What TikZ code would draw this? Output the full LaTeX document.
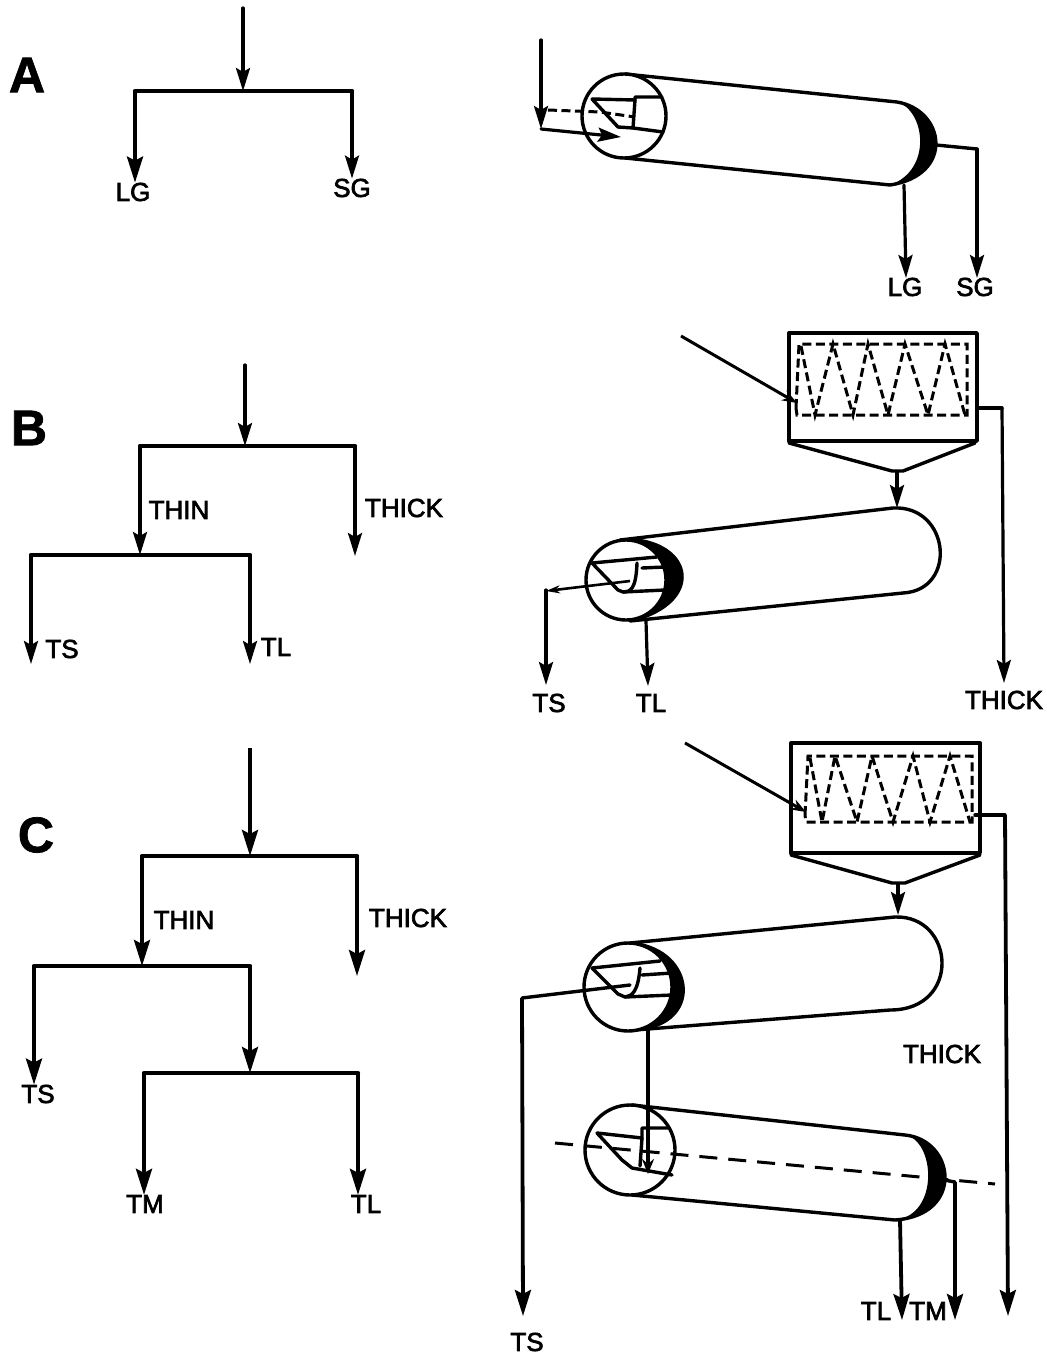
\documentclass[tikz,border=0pt]{standalone}
\usepackage{fontspec}
\setmainfont{Liberation Sans}
\newfontfamily\tagfont[FakeBold=2.6]{Liberation Sans}
\newfontfamily\panelfont[FakeBold=1.5]{Liberation Sans Bold}
\usetikzlibrary{arrows.meta}
\tikzset{
  flow/.style={line width=3.8pt, -{Stealth[length=26pt, width=16pt, inset=4pt]}},
  bar/.style={line width=4.2pt, line cap=round},
  thinflow/.style={line width=3.2pt, line cap=round, -{Stealth[length=23pt, width=14pt, inset=4pt]}},
  wall/.style={line width=3.4pt, line join=round, line cap=round},
  coil/.style={line width=3pt, dash pattern=on 9pt off 4.5pt},
  axisline/.style={line width=3pt, dash pattern=on 18pt off 11pt},
  tag/.style={inner sep=0pt, font=\fontsize{26}{28}\tagfont},
  panel/.style={inner sep=0pt, font=\fontsize{50}{52}\panelfont}
}
\begin{document}
\begin{tikzpicture}[x=1pt, y=-1pt]
  \useasboundingbox (0, 0) rectangle (1046, 1356);

  % panel letters
  \node[panel] (panela) at (27, 75) {A};
  \node[panel] (panelb) at (29, 428) {B};
  \node[panel] (panelc) at (36, 835) {C};

  % scheme A
  \coordinate (ain) at (243, 8);
  \coordinate (aj) at (243, 91);
  \coordinate (al) at (135, 91);
  \coordinate (ar) at (352, 91);
  \node[tag] (alg) at (133, 192) {LG};
  \node[tag] (asg) at (352, 188) {SG};
  \draw[thinflow] (ain) -- (aj);
  \draw[bar] (al) -- (ar);
  \draw[flow] (al) -- (alg.north -| al);
  \draw[thinflow] (ar) -- (asg.north);

  % scheme B
  \coordinate (bin) at (245, 365);
  \coordinate (bj) at (245, 446);
  \coordinate (bl) at (140, 446);
  \coordinate (br) at (355, 446);
  \coordinate (bthick) at (355, 556);
  \coordinate (bs) at (140, 555);
  \coordinate (bsl) at (31, 555);
  \coordinate (bsr) at (250, 555);
  \coordinate (btse) at (31, 664);
  \coordinate (btle) at (250, 664);
  \node[tag] (bthin) at (179, 510) {THIN};
  \node[tag] (bthicklabel) at (404, 508) {THICK};
  \node[tag] (bts) at (62, 649) {TS};
  \node[tag] (btl) at (276, 647) {TL};
  \draw[thinflow] (bin) -- (bj);
  \draw[bar] (bl) -- (br);
  \draw[thinflow] (bl) -- (bs);
  \draw[thinflow] (br) -- (bthick);
  \draw[bar] (bsl) -- (bsr);
  \draw[thinflow] (bsl) -- (btse);
  \draw[thinflow] (bsr) -- (btle);

  % scheme C
  \coordinate (cin) at (250, 748);
  \coordinate (cj) at (250, 856);
  \coordinate (cl) at (142, 856);
  \coordinate (cr) at (357, 856);
  \coordinate (cthick) at (357, 976);
  \coordinate (cs) at (142, 966);
  \coordinate (csl) at (34, 966);
  \coordinate (csr) at (250, 966);
  \coordinate (cm) at (250, 1073);
  \coordinate (cml) at (144, 1073);
  \coordinate (cmr) at (358, 1073);
  \node[tag] (cthin) at (184, 920) {THIN};
  \node[tag] (cthicklabel) at (408, 918) {THICK};
  \node[tag] (cts) at (38, 1094) {TS};
  \node[tag] (ctm) at (145, 1204) {TM};
  \node[tag] (ctl) at (366, 1204) {TL};
  \draw[flow] (cin) -- (cj);
  \draw[bar] (cl) -- (cr);
  \draw[flow] (cl) -- (cs);
  \draw[flow] (cr) -- (cthick);
  \draw[bar] (csl) -- (csr);
  \draw[flow] (csl) -- (cts.north -| csl);
  \draw[flow] (csr) -- (cm);
  \draw[bar] (cml) -- (cmr);
  \draw[flow] (cml) -- (ctm.north -| cml);
  \draw[flow] (cmr) -- (ctl.north -| cmr);

  % centrifuge A
  \draw[wall] (625, 74) -- (897, 102)
    .. controls (945, 110) and (955, 175) .. (890, 185) -- (625, 158);
  \fill (897, 102) .. controls (945, 110) and (955, 175) .. (890, 185)
    .. controls (933, 170) and (925, 110) .. cycle;
  \draw[wall, fill=white] (624, 116) circle[radius=42];
  \draw[wall] (592, 99) -- (635, 100) -- (635, 97) -- (662, 97);
  \draw[wall] (592, 99) -- (618, 127) -- (633, 128) -- (663, 132);
  \draw[wall] (635, 100) -- (633, 128);
  \coordinate (aind) at (541, 40);
  \coordinate (aturn) at (541, 129);
  \coordinate (aout) at (621, 137);
  \draw[thinflow] (aind) -- (aturn);
  \draw[thinflow] (aturn) -- (aout);
  \draw[coil] (548, 110) -- (600, 112) -- (635, 117);
  \coordinate (asgs) at (936, 145);
  \coordinate (asgb) at (977, 149);
  \node[tag] (alg2) at (905, 287) {LG};
  \node[tag] (asg2) at (975, 287) {SG};
  \coordinate (algs) at (904, 185);
  \draw[wall] (asgs) -- (asgb);
  \draw[thinflow] (algs) -- (906, 278);
  \draw[thinflow] (asgb) -- (977, 278);

  % thickener B
  \draw[wall] (789, 333) -- (977, 333) -- (977, 441) -- (789, 441) -- cycle;
  \draw[wall] (789, 443) -- (892, 471) -- (903, 471) -- (975, 443);
  \draw[coil] (796, 408) -- (799, 344) -- (967, 344) -- (967, 415) -- (797, 415) -- cycle;
  \draw[coil] (801, 346) -- (815, 415) -- (833, 344) -- (853, 415) -- (868, 344) -- (888, 415)
    -- (905, 344) -- (928, 415) -- (945, 344) -- (965, 415);
  \coordinate (bfeed) at (681, 336);
  \coordinate (bfeede) at (797, 403);
  \draw[line width=3pt, -{Stealth[length=15pt, width=11pt]}] (bfeed) -- (bfeede);
  \coordinate (bthicks) at (977, 408);
  \coordinate (bthickb) at (1002, 408);
  \node[tag] (bthick2) at (1004, 700) {THICK};
  \draw[wall] (bthicks) -- (bthickb);
  \draw[thinflow] (bthickb) -- (1004, 683);
  \coordinate (bhop) at (897, 472);
  \coordinate (btank) at (897, 508);
  \draw[thinflow] (bhop) -- (btank);

  % centrifuge B
  \draw[wall] (620, 540) -- (893, 508)
    .. controls (950, 505) and (958, 590) .. (903, 593) -- (630, 621);
  \fill (635, 538) .. controls (695, 545) and (703, 600) .. (640, 620)
    -- (626, 580) -- cycle;
  \draw[wall, fill=white] (626, 580) circle[radius=40];
  \draw[wall] (592, 563) -- (657, 557);
  \draw[wall] (642, 568) -- (665, 567);
  \draw[wall] (592, 563) -- (618, 590) -- (623, 592) -- (665, 590);
  \draw[wall] (637, 563) .. controls (636, 590) and (630, 592) .. (623, 592);
  \coordinate (btss) at (630, 581);
  \coordinate (btsm) at (546, 591);
  \coordinate (btsb) at (546, 590);
  \node[tag] (bts2) at (549, 703) {TS};
  \node[tag] (btl2) at (651, 703) {TL};
  \draw[line width=2.6pt, -{Stealth[length=14pt, width=8pt]}] (btss) -- (btsm);
  \draw[thinflow] (btsb) -- (546, 685);
  \coordinate (btls) at (646, 621);
  \draw[thinflow] (btls) -- (648, 686);

  % thickener C
  \draw[wall] (791, 743) -- (980, 743) -- (980, 853) -- (791, 853) -- cycle;
  \draw[wall] (791, 855) -- (892, 883) -- (905, 883) -- (980, 855);
  \draw[coil] (805, 815) -- (808, 756) -- (972, 756) -- (972, 822) -- (806, 822) -- cycle;
  \draw[coil] (810, 758) -- (822, 822) -- (835, 756) -- (857, 822) -- (872, 756) -- (893, 822)
    -- (913, 756) -- (930, 822) -- (950, 756) -- (970, 822);
  \coordinate (cfeed) at (685, 743);
  \coordinate (cfeede) at (806, 812);
  \draw[line width=3pt, -{Stealth[length=15pt, width=11pt]}] (cfeed) -- (cfeede);
  \coordinate (cthicks) at (975, 815);
  \coordinate (cthickb) at (1005, 815);
  \draw[wall] (cthicks) -- (cthickb);
  \draw[flow] (cthickb) -- (1008, 1316);
  \node[tag] (cthick2) at (942, 1054) {THICK};
  \coordinate (chop) at (898, 884);
  \coordinate (ctank) at (898, 915);
  \draw[thinflow] (chop) -- (ctank);

  % centrifuge C upper
  \draw[wall] (630, 943) -- (895, 917)
    .. controls (955, 915) and (962, 1010) .. (890, 1010) -- (635, 1030);
  \fill (635, 942) .. controls (695, 950) and (704, 1020) .. (645, 1030)
    -- (628, 987) -- cycle;
  \draw[wall, fill=white] (628, 987) circle[radius=44];
  \draw[wall] (592, 968) -- (660, 961);
  \draw[wall] (642, 975) -- (672, 973);
  \draw[wall] (592, 968) -- (618, 994) -- (625, 997) -- (672, 995);
  \draw[wall] (640, 968) .. controls (638, 992) and (632, 996) .. (625, 997);
  \coordinate (ctss) at (630, 985);
  \coordinate (ctsb) at (522, 998);
  \node[tag] (cts2) at (527, 1342) {TS};
  \draw[wall] (ctss) -- (ctsb);
  \draw[flow] (ctsb) -- (523, 1316);

  % centrifuge C lower
  \draw[wall] (632, 1105) -- (905, 1135)
    .. controls (955, 1140) and (965, 1215) .. (895, 1220) -- (632, 1195);
  \fill (905, 1135) .. controls (955, 1140) and (965, 1215) .. (895, 1220)
    .. controls (940, 1215) and (935, 1140) .. cycle;
  \draw[wall, fill=white] (630, 1150) circle[radius=45];
  \draw[wall] (597, 1133) -- (642, 1138) -- (642, 1128) -- (668, 1128);
  \draw[wall] (597, 1133) -- (622, 1160) -- (632, 1168) -- (672, 1175);
  \draw[wall] (642, 1138) -- (640, 1166);
  \coordinate (clink) at (648, 1030);
  \coordinate (clinke) at (648, 1174);
  \draw[line width=3.2pt, -{Stealth[length=15pt, width=12pt]}] (clink) -- (clinke);
  \draw[axisline] (555, 1143) -- (995, 1184);
  \coordinate (ctms) at (944, 1180);
  \coordinate (ctmb) at (955, 1182);
  \coordinate (ctls) at (900, 1220);
  \node[tag] (ctl2) at (876, 1311) {TL};
  \node[tag] (ctm2) at (928, 1311) {TM};
  \draw[wall] (ctms) -- (ctmb);
  \draw[flow] (ctmb) -- (955, 1320);
  \draw[flow] (ctls) -- (902, 1320);
\end{tikzpicture}
\end{document}
